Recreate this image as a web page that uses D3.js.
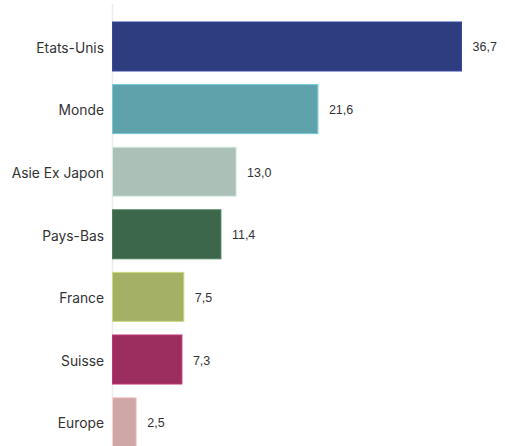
<!DOCTYPE html>
<html>
<head>
<meta charset="utf-8">
<script src="https://cdn.jsdelivr.net/npm/d3@7"></script>
<style>
	body { margin: 0; background: #fff; }
	svg { display: block; }
</style>
</head>
<body>
<div id="chart"></div>
<script>
let categories = ['Etats-Unis', 'Monde', 'Asie Ex Japon', 'Pays-Bas', 'France', 'Suisse', 'Europe'];
let values = [36.7, 21.6, 13.0, 11.4, 7.5, 7.3, 2.5];
let colors = ['#2e3c80', '#5fa2ac', '#abc0b7', '#3d674b', '#a3b066', '#9b2e5f', '#d0a7a7'];

function renderBars() {
	let width = 505, height = 446;
	let left = 112.5;

	let svg = d3.select('#chart').append('svg')
		.attr('width', width)
		.attr('height', height);

	//scale fitted so 36.7 ends near x=461
	let x = d3.scaleLinear()
		.domain([0, 36.7])
		.range([left, 461.5]);

	let y = d3.scaleBand()
		.domain(categories)
		.range([8.4, 460.2])
		.padding(0.217);

	// faint axis line
	svg.append('line')
		.attr('x1', left).attr('x2', left)
		.attr('y1', 4).attr('y2', height)
		.attr('stroke', '#ececec')
		.attr('stroke-width', 1.5);

	let rows = svg.selectAll('g.row')
		.data(categories)
		.enter().append('g')
		.attr('class', 'row');

	rows.append('rect')
		.attr('x', x(0))
		.attr('y', d => y(d))
		.attr('width', (d, i) => x(values[i]) - x(0))
		.attr('height', y.bandwidth())
		.attr('fill', (d, i) => colors[i])
		.attr('stroke', (d, i) => d3.color(colors[i]).brighter(0.6))
		.attr('stroke-width', 1);

	rows.append('text')
		.attr('x', 104)
		.attr('y', d => y(d) + y.bandwidth() / 2)
		.attr('dy', '0.45em')
		.attr('text-anchor', 'end')
		.attr('font-family', 'Inter, "Noto Sans", sans-serif')
		.attr('font-size', 13.8)
		.attr('fill', '#333')
		.text(d => d);

	rows.append('text')
		.attr('x', (d, i) => x(values[i]) + 11)
		.attr('y', d => y(d) + y.bandwidth() / 2)
		.attr('dy', '0.4em')
		.attr('font-family', '"Liberation Sans", Arial, sans-serif')
		.attr('font-size', 12.5)
		.attr('fill', '#333')
		.text((d, i) => values[i].toFixed(1).replace('.', ','));
}
renderBars();
</script>
</body>
</html>
